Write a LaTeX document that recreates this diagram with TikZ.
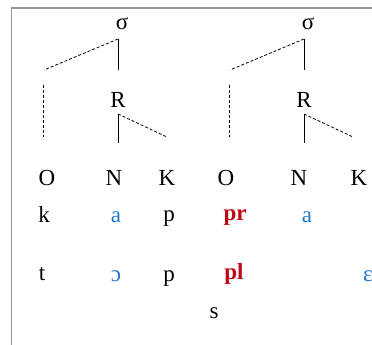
\documentclass[tikz,border=0pt]{standalone}
\usepackage{fontspec}
\setmainfont{Liberation Serif}
\definecolor{vowel}{RGB}{30,120,200}
\definecolor{clus}{RGB}{190,10,20}
\definecolor{frame}{RGB}{150,150,150}
\begin{document}
\begin{tikzpicture}[x=1pt,y=-1pt,
  lab/.style={inner sep=0pt,font=\fontsize{23}{27}\selectfont},
  vow/.style={lab,text=vowel},
  cl/.style={lab,text=clus,font=\fontsize{23}{27}\selectfont\bfseries},
  sol/.style={line width=0.8pt},
  dsh/.style={line width=0.8pt,dash pattern=on 3pt off 2pt}]
\useasboundingbox (0,0) rectangle (372,345);
\draw[frame,line width=1.5pt] (11.5,345) -- (11.5,8) -- (372,8);
% tree 1
\node[lab] (s1) at (122,24) {σ};
\node[lab] (r1) at (118,100) {R};
\coordinate (s1t) at (118,39);
\coordinate (s1a) at (44,70);
\coordinate (s1b) at (118,70);
\coordinate (o1t) at (43,85);
\coordinate (o1b) at (43,137);
\coordinate (r1t) at (118,114);
\coordinate (n1b) at (118,143);
\coordinate (k1b) at (167,137);
\draw[dsh] (s1t) -- (s1a);
\draw[sol] (s1t) -- (s1b);
\draw[dsh] (o1t) -- (o1b);
\draw[sol] (r1t) -- (n1b);
\draw[dsh] (r1t) -- (k1b);
% tree 2
\node[lab] (s2) at (308,24) {σ};
\node[lab] (r2) at (304,100) {R};
\coordinate (s2t) at (304,39);
\coordinate (s2a) at (230,70);
\coordinate (s2b) at (304,70);
\coordinate (o2t) at (229,85);
\coordinate (o2b) at (229,137);
\coordinate (r2t) at (304,114);
\coordinate (n2b) at (304,143);
\coordinate (k2b) at (353,137);
\draw[dsh] (s2t) -- (s2a);
\draw[sol] (s2t) -- (s2b);
\draw[dsh] (o2t) -- (o2b);
\draw[sol] (r2t) -- (n2b);
\draw[dsh] (r2t) -- (k2b);
% labels
\node[lab] (O1) at (47,178) {O};
\node[lab] (N1) at (114,178) {N};
\node[lab] (K1) at (167,178) {K};
\node[lab] (O2) at (226,178) {O};
\node[lab] (N2) at (299,178) {N};
\node[lab] (K2) at (359,178) {K};
% row 2
\node[lab] (k) at (44,215) {k};
\node[vow] (a1) at (116,217) {a};
\node[lab] (p1) at (169,219) {p};
\node[cl] (pr) at (235,217) {pr};
\node[vow] (a2) at (307,217) {a};
% row 3
\node[lab] (t) at (42,274) {t};
\node[vow] (oo) at (116,276) {ɔ};
\node[lab] (p2) at (169,279) {p};
\node[cl] (pl) at (234,274) {pl};
\node[vow] (ee) at (368,276) {ɛ};
\node[lab] (s) at (214,313) {s};
\end{tikzpicture}
\end{document}
